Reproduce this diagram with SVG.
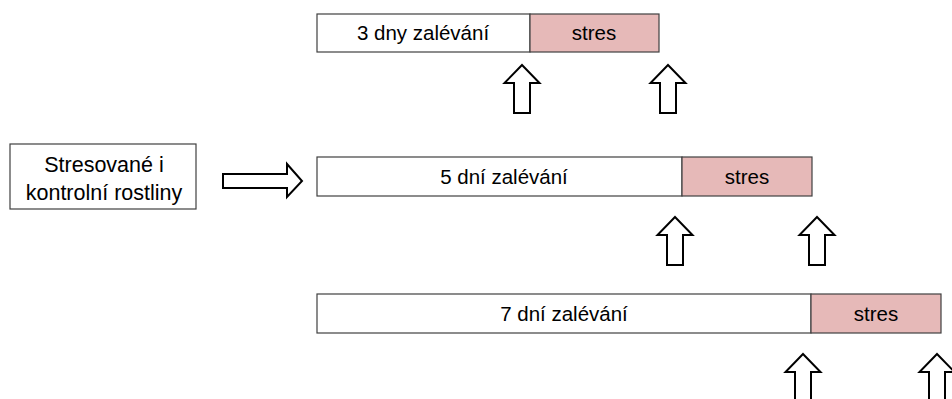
<svg xmlns="http://www.w3.org/2000/svg" xmlns:xlink="http://www.w3.org/1999/xlink" width="952" height="399" viewBox="0 0 952 399">
  <style>
    .bar { fill: #ffffff; stroke: #404040; stroke-width: 1.2; }
    .stress { fill: #e6b9b8; stroke: #404040; stroke-width: 1.2; }
    .box { fill: #ffffff; stroke: #404040; stroke-width: 1.2; }
    .lbl { font-family: "Liberation Sans", Arial, sans-serif; font-size: 20.5px; fill: #000000; text-anchor: middle; }
    .big { font-size: 21.5px; }
    .arrow { fill: #ffffff; stroke: #000000; stroke-width: 2; stroke-linejoin: miter; }
  </style>
  <defs>
    <!-- hollow block arrow pointing up, tip at origin -->
    <path id="up" class="arrow" d="M0,0 L17.5,18 L8,18 L8,48 L-8,48 L-8,18 L-17.5,18 Z"/>
  </defs>

  <g id="start">
    <rect class="box" x="10" y="144" width="186" height="65"/>
    <text class="lbl big" x="104" y="172">Stresované i</text>
    <text class="lbl big" x="104" y="200">kontrolní rostliny</text>
  </g>

  <g id="row3d">
    <rect class="bar" x="317" y="14" width="213" height="38"/>
    <rect class="stress" x="530" y="14" width="129" height="38"/>
    <text class="lbl" x="423" y="40">3 dny zalévání</text>
    <text class="lbl" x="594" y="40">stres</text>
  </g>

  <g id="row5d">
    <rect class="bar" x="317" y="157" width="365" height="39"/>
    <rect class="stress" x="682" y="157" width="130" height="39"/>
    <text class="lbl" x="504" y="184">5 dní zalévání</text>
    <text class="lbl" x="747" y="184">stres</text>
  </g>

  <g id="row7d">
    <rect class="bar" x="317" y="294" width="494" height="39"/>
    <rect class="stress" x="811" y="294" width="130" height="39"/>
    <text class="lbl" x="564" y="321">7 dní zalévání</text>
    <text class="lbl" x="876" y="321">stres</text>
  </g>

  <g id="connectors">
    <!-- right-pointing block arrow from the plant box -->
    <path class="arrow" d="M223,174 L287,174 L287,164 L302,181 L287,197 L287,188 L223,188 Z"/>
    <!-- sampling points -->
    <use xlink:href="#up" x="522" y="65"/>
    <use xlink:href="#up" x="668" y="65"/>
    <use xlink:href="#up" x="675" y="217"/>
    <use xlink:href="#up" x="817" y="217"/>
    <use xlink:href="#up" x="803" y="354"/>
    <use xlink:href="#up" x="937" y="354"/>
  </g>
</svg>
